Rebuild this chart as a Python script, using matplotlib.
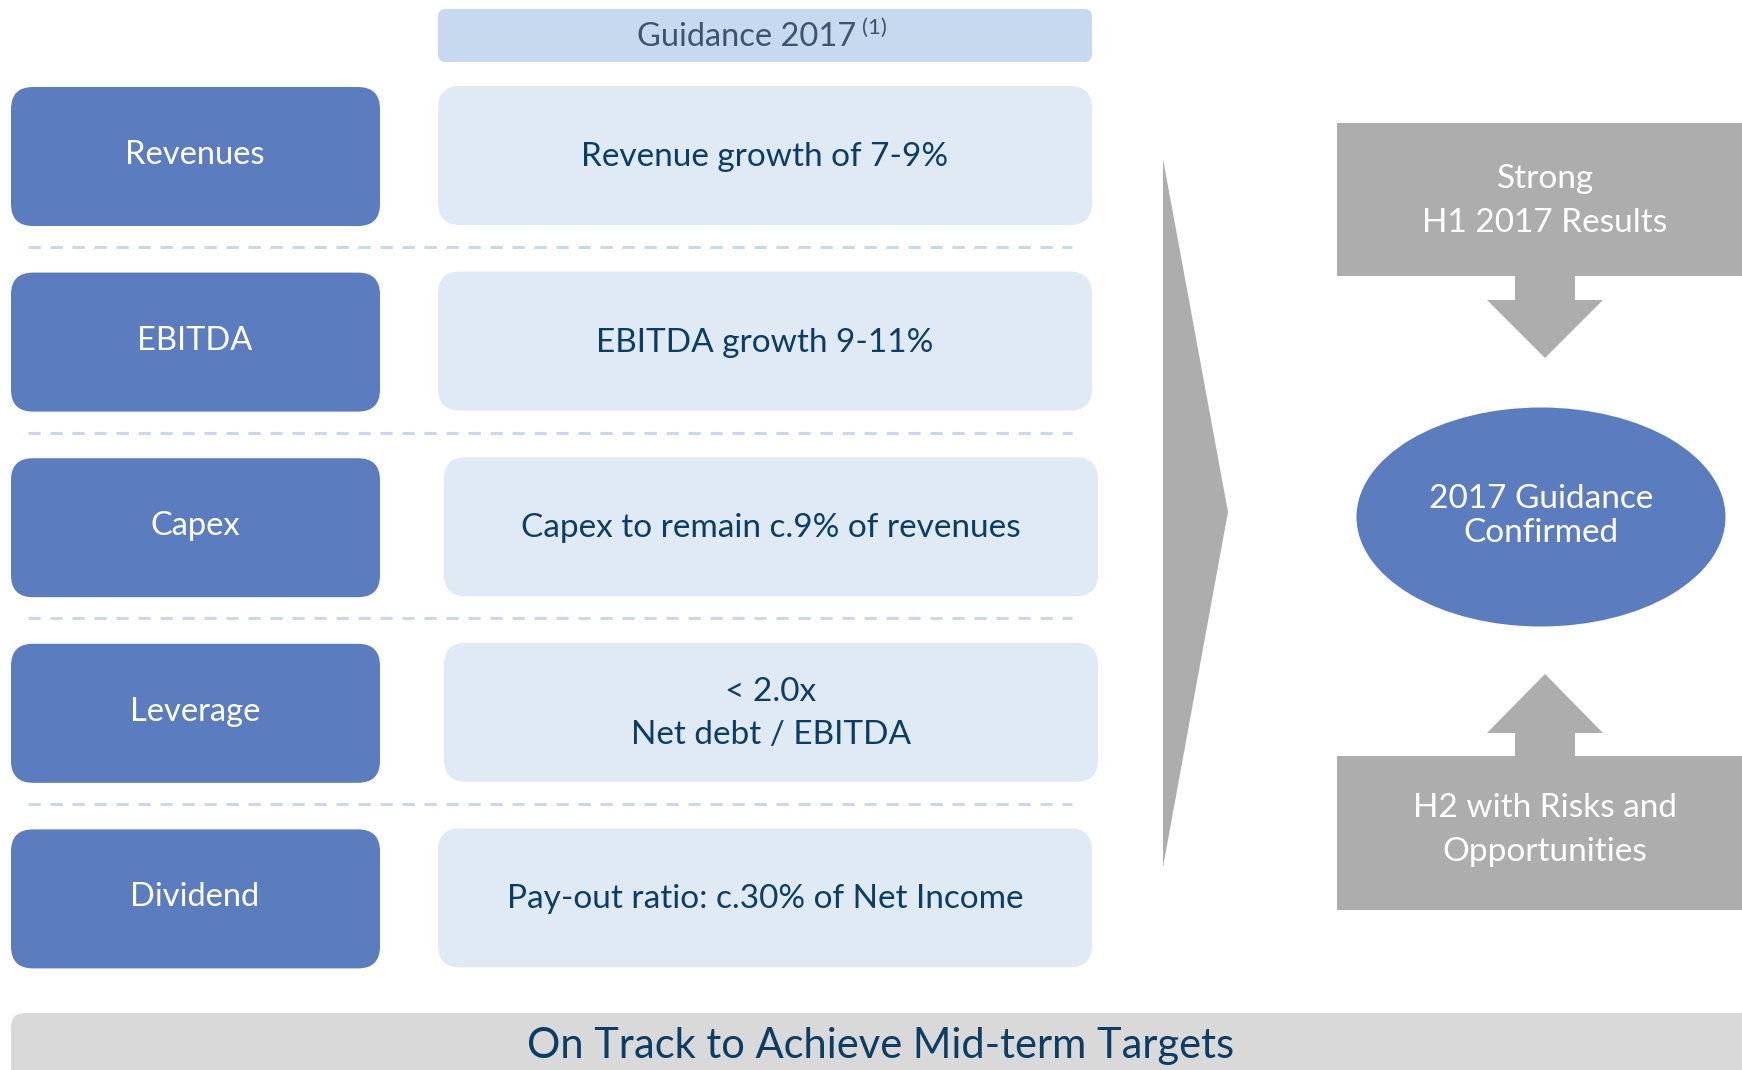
import matplotlib.pyplot as plt
from matplotlib.patches import FancyBboxPatch, Rectangle, Polygon, Ellipse

plt.rcParams['font.family'] = ['Lato', 'DejaVu Sans']

# content
header = 'Guidance 2017'
header_note = '(1)'
categories = ['Revenues', 'EBITDA', 'Capex', 'Leverage', 'Dividend']
guidance = ['Revenue growth of 7-9%',
            'EBITDA growth 9-11%',
            'Capex to remain c.9% of revenues',
            '< 2.0x\nNet debt / EBITDA',
            'Pay-out ratio: c.30% of Net Income']
top_box = 'Strong\nH1 2017 Results'
middle_box = '2017 Guidance\nConfirmed'
bottom_box = 'H2 with Risks and\nOpportunities'
banner = 'On Track to Achieve Mid-term Targets'

blue = '#5B7CBE'
light = '#E0EAF5'
head_col = '#C6D9EE'
grey = '#ADADAD'
navy = '#0C3D64'

fig = plt.figure(figsize=(17.42, 10.70), dpi=100)
ax = fig.add_axes([0, 0, 1, 1])
ax.set_xlim(0, 1742)
ax.set_ylim(1070, 0)
ax.axis('off')

# header
ax.add_patch(FancyBboxPatch((438, 9), 654, 53, boxstyle='round,pad=0,rounding_size=8',
                            fc=head_col, ec='none'))
t = ax.text(747, 37, header, ha='center', va='center', fontsize=23.5, color='#3E5370')
ax.annotate(header_note, xy=(1, 1), xycoords=t, xytext=(4, 3), textcoords='offset points',
            ha='left', va='top', fontsize=16, color='#3E5370')

pitch = 185.6
shift = [0, 0, 6, 6, 0]
for i, (cat, g) in enumerate(zip(categories, guidance)):
    y0 = 87 + i * pitch
    ax.add_patch(FancyBboxPatch((11, y0), 369, 139, boxstyle='round,pad=0,rounding_size=22',
                                fc=blue, ec='none'))
    ax.text(195, y0 + 68, cat, ha='center', va='center', fontsize=23.5, color='white')
    x0 = 438 + shift[i]
    ax.add_patch(FancyBboxPatch((x0, y0 - 1), 654, 139, boxstyle='round,pad=0,rounding_size=22',
                                fc=light, ec='none'))
    ax.text(x0 + 327, y0 + 70, g, ha='center', va='center', fontsize=24, color=navy,
            linespacing=1.55)
    if i < len(categories) - 1:
        yl = y0 + 160
        ax.plot([28, 1072], [yl, yl], color='#C9D8EC', lw=2.2, dashes=(4, 3.2))

# big chevron
ax.add_patch(Polygon([(1163, 159), (1228, 512), (1163, 867)], closed=True, fc=grey, ec='none'))

# right side flow
cx = 1545
ax.add_patch(Rectangle((1337, 123), 420, 153, fc=grey, ec='none'))
ax.add_patch(Polygon([(cx - 30, 270), (cx + 30, 270), (cx + 30, 300), (cx + 58, 300),
                      (cx, 358), (cx - 58, 300), (cx - 30, 300)], closed=True, fc=grey, ec='none'))
ax.text(cx, 201, top_box, ha='center', va='center', fontsize=24, color='white', linespacing=1.55)

ax.add_patch(Ellipse((1541, 517), 369, 219, fc=blue, ec='none'))
ax.text(1541, 516, middle_box, ha='center', va='center', fontsize=24, color='white',
        linespacing=1.2)

ax.add_patch(Rectangle((1337, 756), 420, 154, fc=grey, ec='none'))
ax.add_patch(Polygon([(cx - 30, 762), (cx + 30, 762), (cx + 30, 733), (cx + 58, 733),
                      (cx, 674), (cx - 58, 733), (cx - 30, 733)], closed=True, fc=grey, ec='none'))
ax.text(cx, 830, bottom_box, ha='center', va='center', fontsize=24, color='white',
        linespacing=1.55)

# bottom banner
ax.add_patch(FancyBboxPatch((11, 1013), 1760, 90, boxstyle='round,pad=0,rounding_size=14',
                            fc='#D9D9D9', ec='none'))
ax.text(881, 1046, banner, ha='center', va='center', fontsize=30, color=navy)

fig.savefig('out.png', dpi=100)
